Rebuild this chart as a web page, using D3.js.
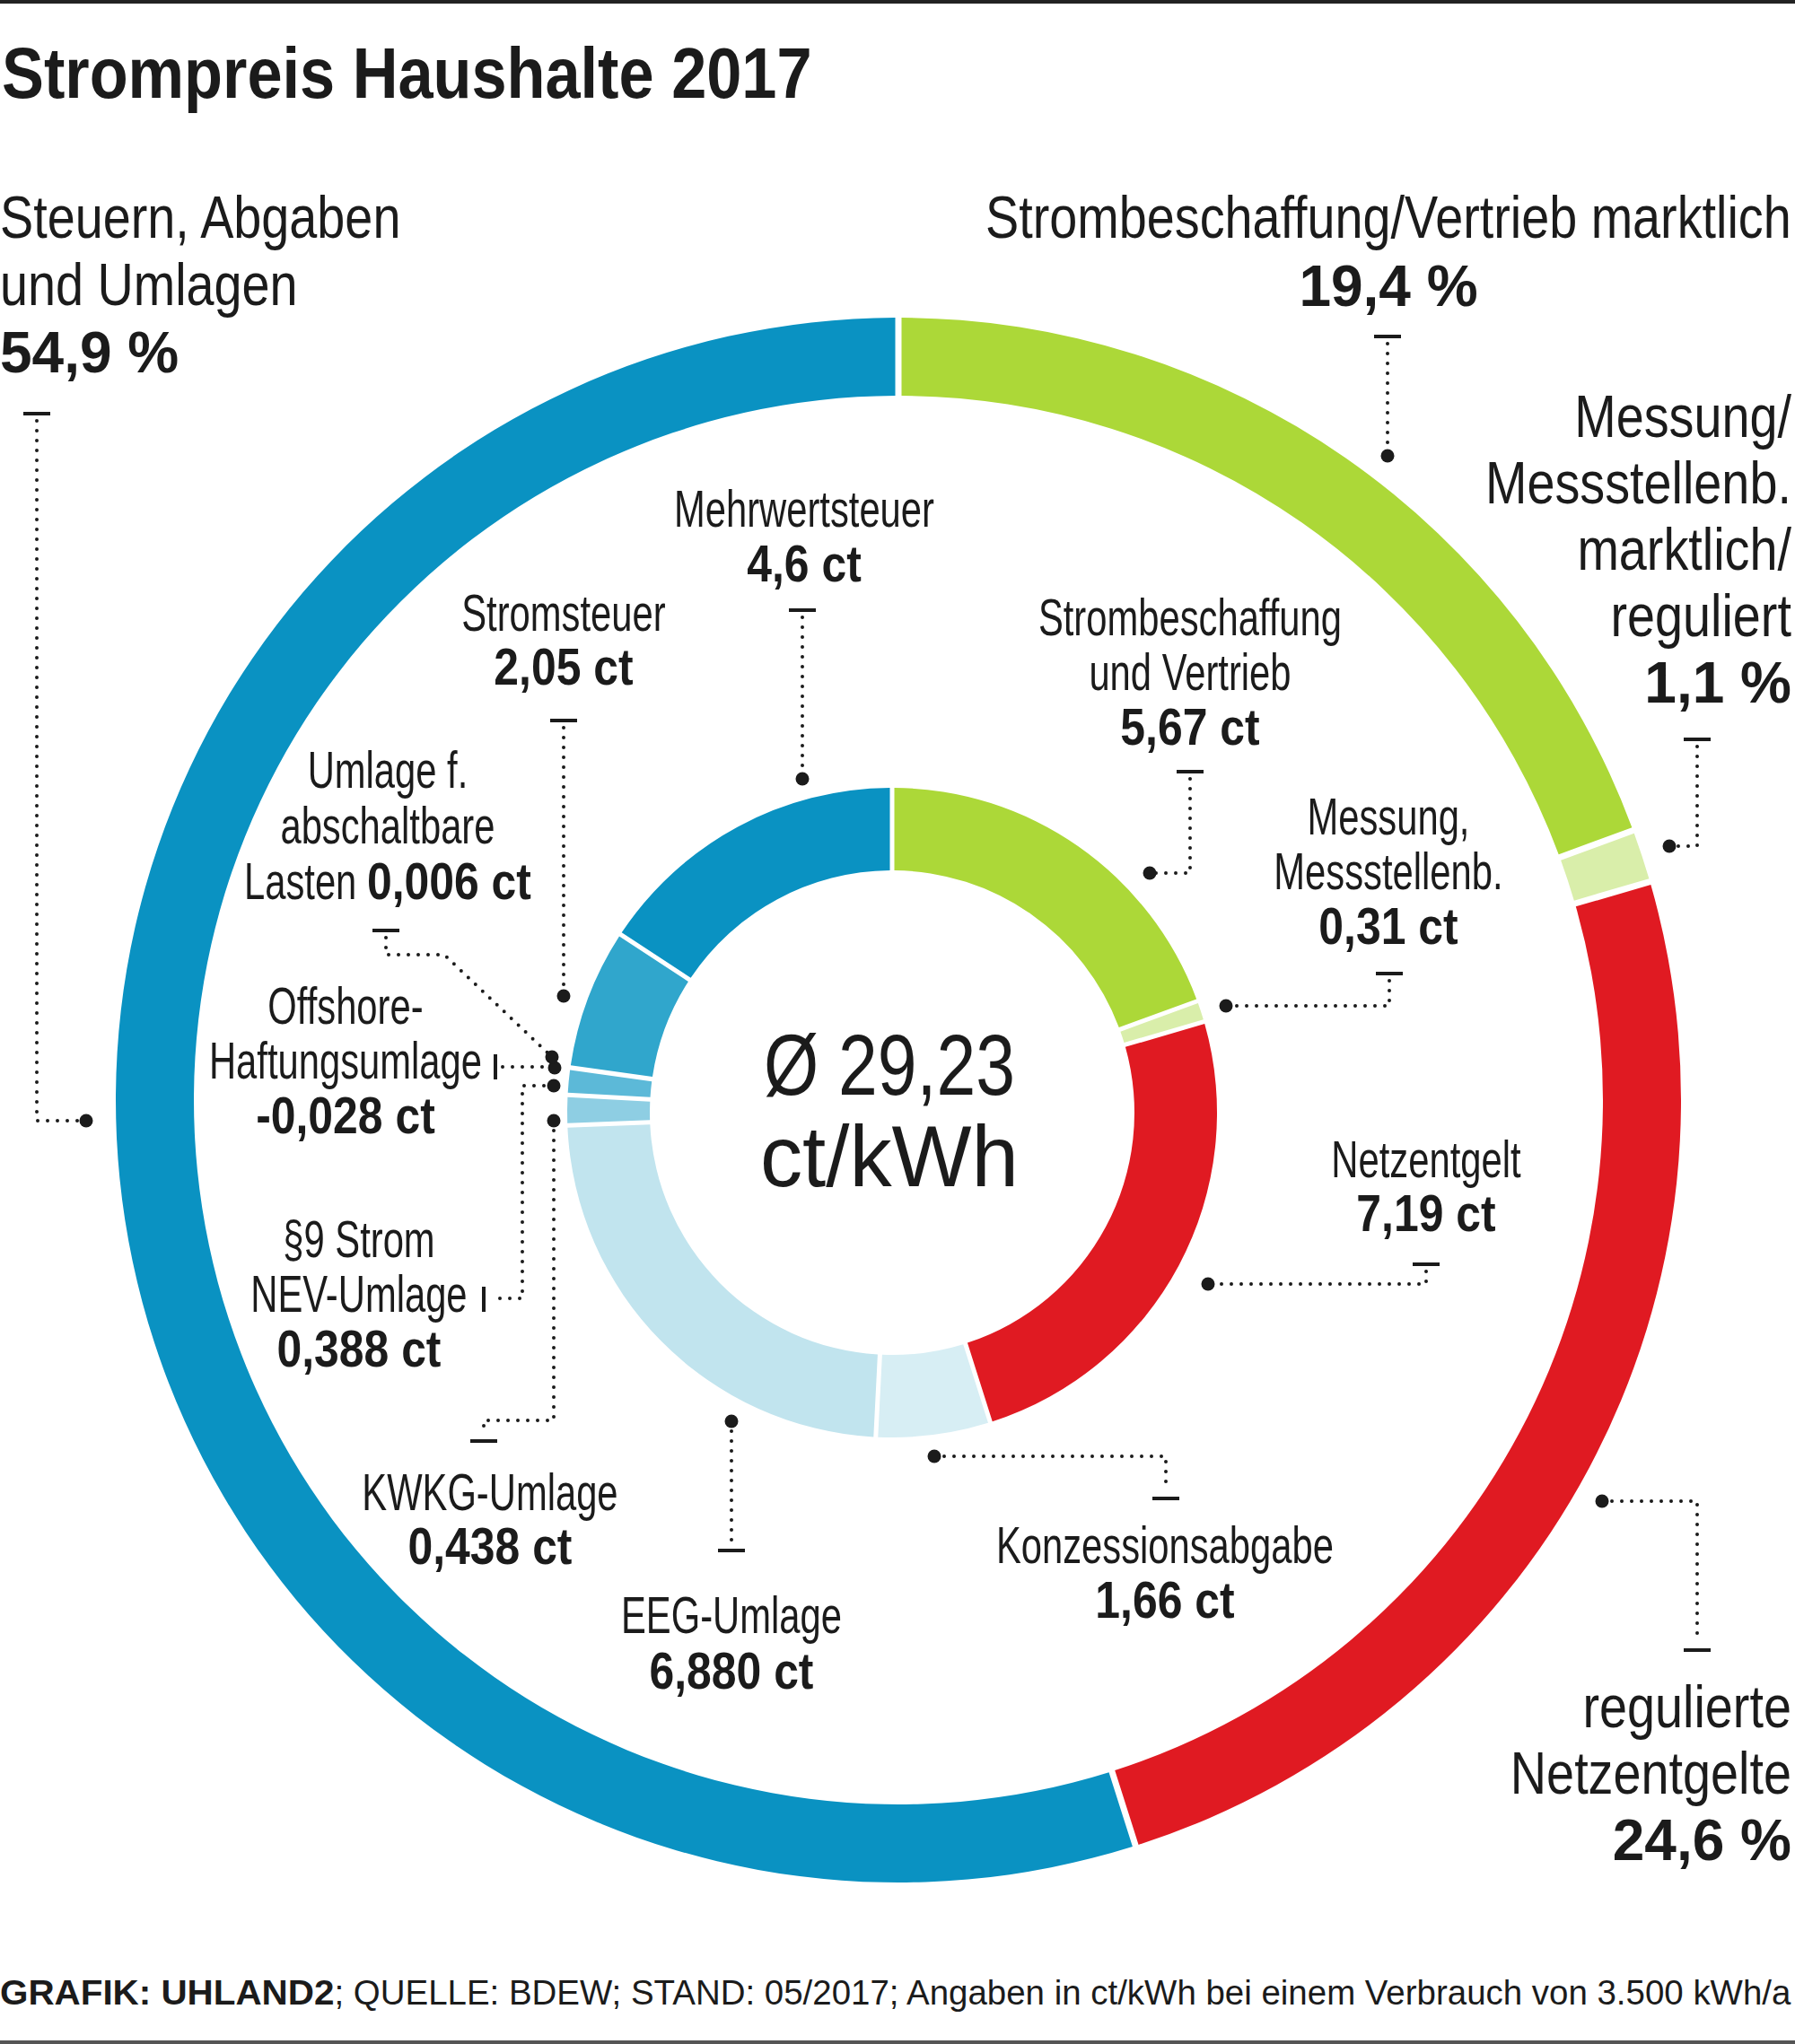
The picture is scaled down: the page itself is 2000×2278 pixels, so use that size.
<!DOCTYPE html>
<html>
<head>
<meta charset="utf-8">
<script src="https://cdn.jsdelivr.net/npm/d3@7"></script>
<style>
  body { margin: 0; background: #fff; }
  svg { display: block; }
  text { white-space: pre; }
</style>
</head>
<body>
<svg id="chart" width="2000" height="2278"></svg>
<script>
// ---- data ----
const title = "Strompreis Haushalte 2017";
const source = "**GRAFIK: UHLAND2**; QUELLE: BDEW; STAND: 05/2017; Angaben in ct/kWh bei einem Verbrauch von 3.500 kWh/a";
const averagePrice = 29.23;
const priceUnit = "ct/kWh";

// outer ring, share of price in %
const outerNameLines = [
    ["Strombeschaffung/Vertrieb marktlich"],
    ["Messung/", "Messstellenb.", "marktlich/", "reguliert"],
    ["regulierte", "Netzentgelte"],
    ["Steuern, Abgaben", "und Umlagen"]
];
const outerShares = [19.4, 1.1, 24.6, 54.9];
const outerColors = ["#acd838", "#d9eeaa", "#e01a22", "#0a92c2"];

// inner ring, ct/kWh
const innerNameLines = [
    ["Strombeschaffung", "und Vertrieb"],
    ["Messung,", "Messstellenb."],
    ["Netzentgelt"],
    ["Konzessionsabgabe"],
    ["EEG-Umlage"],
    ["KWKG-Umlage"],
    ["§9 Strom", "NEV-Umlage"],
    ["Offshore-", "Haftungsumlage"],
    ["Umlage f.", "abschaltbare", "Lasten"],
    ["Stromsteuer"],
    ["Mehrwertsteuer"]
];
const innerValues = [5.67, 0.31, 7.19, 1.66, 6.88, 0.438, 0.388, -0.028, 0.006, 2.05, 4.6];
const innerValueLabels = ["5,67 ct", "0,31 ct", "7,19 ct", "1,66 ct", "6,880 ct", "0,438 ct",
    "0,388 ct", "-0,028 ct", "0,006 ct", "2,05 ct", "4,6 ct"];
const innerColors = ["#acd838", "#d9eeaa", "#e01a22", "#d7eef4", "#c1e4ee", "#8ecee3",
    "#5cb9d8", "#5cb9d8", "#5cb9d8", "#30a6cc", "#0a92c2"];

// ---- layout ----
const width = 2000, height = 2278;
const ink = "#1b1b1b";
const SANS = "'Liberation Sans', Arial, sans-serif";

const outerRing = { cx: 1001, cy: 1226, r0: 785, r1: 872, gap: 7 };
const innerRing = { cx: 994, cy: 1240, r0: 270, r1: 362, gap: 5 };

// the original face is condensed, so glyphs are squeezed horizontally
const outerStyle = {
    reg: { family: SANS, weight: 400, size: 66, sx: 0.845 },
    bold: { family: SANS, weight: 700, size: 64, sx: 1 }
};
const innerStyle = {
    reg: { family: SANS, weight: 400, size: 58, sx: 0.72 },
    bold: { family: SANS, weight: 700, size: 58, sx: 0.86 }
};

// label blocks + leader lines (tick -> dotted path -> dot)
const outerAnno = [
    { x: 1996, y: 265, dy: 76, anchor: "end", value: { x: 1547, anchor: "middle" },
      tick: [1546, 375, "h"], path: [[1546, 383], [1546, 508]], dot: [1546, 508] },
    { x: 1996, y: 487, dy: 74, anchor: "end",
      tick: [1891, 824, "h"], path: [[1891, 832], [1891, 943], [1860, 943]], dot: [1860, 943] },
    { x: 1996, y: 1925, dy: 74, anchor: "end",
      tick: [1891, 1839, "h"], path: [[1785, 1673], [1891, 1673], [1891, 1831]], dot: [1785, 1673] },
    { x: 0, y: 265, dy: 75, anchor: "start",
      tick: [41, 461, "h"], path: [[41, 469], [41, 1249], [96, 1249]], dot: [96, 1249] }
];
const innerAnno = [
    { x: 1326, y: 708, dy: 61, tick: [1326, 860, "h"], path: [[1326, 868], [1326, 973], [1281, 973]], dot: [1281, 973] },
    { x: 1547, y: 930, dy: 61, tick: [1548, 1085, "h"], path: [[1548, 1093], [1548, 1121], [1366, 1121]], dot: [1366, 1121] },
    { x: 1589, y: 1312, dy: 60, tick: [1589, 1409, "h"], path: [[1589, 1417], [1589, 1431], [1346, 1431]], dot: [1346, 1431] },
    { x: 1298, y: 1742, dy: 61, tick: [1299, 1670, "h"], path: [[1041, 1623], [1299, 1623], [1299, 1662]], dot: [1041, 1623] },
    { x: 815, y: 1820, dy: 62, tick: [815, 1728, "h"], path: [[815, 1584], [815, 1720]], dot: [815, 1584] },
    { x: 546, y: 1683, dy: 60, tick: [539, 1606, "h"], path: [[617, 1249], [617, 1583], [539, 1583], [539, 1598]], dot: [617, 1249] },
    { x: 400, y: 1401, dy: 61, tick: [539, 1448, "v"], path: [[617, 1210], [582, 1210], [582, 1447], [548, 1447]], dot: [617, 1210] },
    { x: 385, y: 1141, dy: 61, tick: [552, 1189, "v"], path: [[560, 1189], [618, 1189]], dot: [618, 1190] },
    { x: 432, y: 878, dy: 62, inline: true, tick: [430, 1037, "h"], path: [[430, 1045], [430, 1064], [495, 1064], [615, 1178]], dot: [615, 1178] },
    { x: 628, y: 703, dy: 60, tick: [628, 803, "h"], path: [[628, 811], [628, 1110]], dot: [628, 1110] },
    { x: 896, y: 587, dy: 61, tick: [894, 680, "h"], path: [[894, 688], [894, 868]], dot: [894, 868] }
];

const fmtComma = f => v => d3.format(f)(v).replace(".", ",");

const svg = d3.select("#chart").attr("viewBox", [0, 0, width, height]);

// lines of text with **bold** runs, measured so mixed runs sit side by side
function drawBlock(g, lines, opt) {
    lines.forEach((line, i) => {
        const y = opt.y + i * opt.dy;
        const runs = line.split("**")
            .map((t, k) => ({ t, bold: k % 2 === 1 }))
            .filter(r => r.t.length);
        const nodes = runs.map(r => {
            const st = r.bold ? opt.style.bold : opt.style.reg;
            const el = g.append("text")
                .attr("font-family", st.family)
                .attr("font-weight", st.weight)
                .attr("font-size", st.size)
                .attr("fill", ink)
                .text(r.t);
            return { el, sx: st.sx, w: el.node().getComputedTextLength() * st.sx };
        });
        let total = d3.sum(nodes, n => n.w);
        const fit = Array.isArray(opt.fit) ? opt.fit[i] : opt.fit;
        if (fit) {
            const k = fit / total;
            nodes.forEach(n => { n.sx *= k; n.w *= k; });
            total = fit;
        }
        let x0 = opt.anchor === "middle" ? opt.x - total / 2
            : opt.anchor === "end" ? opt.x - total : opt.x;
        nodes.forEach(n => {
            n.el.attr("transform", `translate(${x0},${y}) scale(${n.sx},1)`);
            x0 += n.w;
        });
    });
}

// frame lines
svg.append("rect").attr("x", 0).attr("y", 0).attr("width", width).attr("height", 4).attr("fill", "#222");
svg.append("rect").attr("x", 0).attr("y", height - 4).attr("width", width).attr("height", 4).attr("fill", "#555");

// title
drawBlock(svg.append("g"), ["**" + title + "**"], {
    x: 2, y: 109, dy: 0, anchor: "start",
    style: { reg: outerStyle.reg, bold: { family: SANS, weight: 700, size: 79, sx: 0.89 } }
});

// rings
function ring(cfg, values, colors, cls) {
    const pie = d3.pie().sort(null).value(v => Math.max(0, v));
    const arc = d3.arc()
        .innerRadius(cfg.r0)
        .outerRadius(cfg.r1)
        .padRadius(cfg.r1)
        .padAngle(cfg.gap / cfg.r1);
    svg.append("g")
        .attr("class", cls)
        .attr("transform", `translate(${cfg.cx},${cfg.cy})`)
        .selectAll("path")
        .data(pie(values).filter(d => d.value > 0))
        .join("path")
            .attr("d", arc)
            .attr("fill", d => colors[d.index]);
}
ring(outerRing, outerShares, outerColors, "outer");
ring(innerRing, innerValues, innerColors, "inner");

// centre text
drawBlock(svg.append("g"), ["Ø " + fmtComma(".2f")(averagePrice), priceUnit], {
    x: 991, y: 1220, dy: 102, anchor: "middle", fit: [280, 288],
    style: { reg: { family: SANS, weight: 400, size: 96, sx: 1 }, bold: outerStyle.bold }
});

// leader lines
function leader(g, a) {
    const [tx, ty, o] = a.tick;
    g.append("line")
        .attr("x1", o === "h" ? tx - 15 : tx).attr("x2", o === "h" ? tx + 15 : tx)
        .attr("y1", o === "h" ? ty : ty - 14).attr("y2", o === "h" ? ty : ty + 14)
        .attr("stroke", ink).attr("stroke-width", 4);
    g.append("path")
        .attr("d", d3.line()(a.path))
        .attr("fill", "none")
        .attr("stroke", ink)
        .attr("stroke-width", 4)
        .attr("stroke-linecap", "round")
        .attr("stroke-dasharray", "0 11");
    g.append("circle")
        .attr("cx", a.dot[0]).attr("cy", a.dot[1]).attr("r", 7.5)
        .attr("fill", ink);
}

const annoG = svg.append("g").attr("class", "annotations");

outerAnno.forEach((a, i) => {
    const pct = "**" + fmtComma(".1f")(outerShares[i]) + " %**";
    const names = outerNameLines[i];
    if (a.value) {
        drawBlock(annoG, names, { x: a.x, y: a.y, dy: a.dy, anchor: a.anchor, style: outerStyle });
        drawBlock(annoG, [pct], { x: a.value.x, y: a.y + names.length * a.dy, dy: 0, anchor: a.value.anchor, style: outerStyle });
    } else {
        drawBlock(annoG, names.concat([pct]), { x: a.x, y: a.y, dy: a.dy, anchor: a.anchor, style: outerStyle });
    }
    leader(annoG, a);
});

innerAnno.forEach((a, i) => {
    const names = innerNameLines[i].slice();
    const val = "**" + innerValueLabels[i] + "**";
    const lines = a.inline
        ? names.slice(0, -1).concat([names[names.length - 1] + " " + val])
        : names.concat([val]);
    drawBlock(annoG, lines, { x: a.x, y: a.y, dy: a.dy, anchor: "middle", style: innerStyle });
    leader(annoG, a);
});

// source line
drawBlock(svg.append("g"), [source], {
    x: 0, y: 2234, dy: 0, anchor: "start", fit: 1996,
    style: {
        reg: { family: SANS, weight: 400, size: 38, sx: 1 },
        bold: { family: SANS, weight: 700, size: 38, sx: 1.05 }
    }
});
</script>
</body>
</html>
